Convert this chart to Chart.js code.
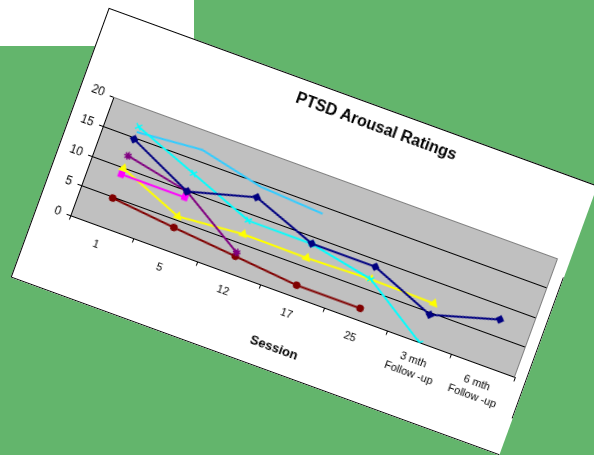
<!DOCTYPE html>
<html>
<head>
<meta charset="utf-8">
<script src="https://cdn.jsdelivr.net/npm/chart.js@4.4.1/dist/chart.umd.min.js"></script>
<style>
  html, body { margin: 0; padding: 0; }
  body { width: 594px; height: 455px; background: #63B56C; position: relative; overflow: hidden; }
  #whiteRect { position: absolute; left: 0; top: 0; width: 194px; height: 46px; background: #fff; }
  #paper { position: absolute; left: 43.5px; top: 87.5px; width: 520px; height: 287px; background: #fff;
           transform: rotate(20deg); transform-origin: 50% 50%; overflow: hidden; }
  #frame { position: absolute; left: 0; top: 0; width: 520px; height: 287px; box-sizing: border-box;
           border-top: 1px solid #000; border-left: 1px solid #000; border-bottom: 1px solid #000; pointer-events: none; }
  #rightLine { position: absolute; left: 519px; top: 98px; width: 1px; height: 150px; background: #000; }
  #c { position: absolute; left: 0; top: 0; }
</style>
</head>
<body>
<div id="whiteRect"></div>
<div id="paper">
  <canvas id="c" width="584" height="287"></canvas>
  <div id="frame"></div>
  <div id="rightLine"></div>
</div>
<script>
const sessions = ['1', '5', '12', '17', '25', ['3 mth', 'Follow -up'], ['6 mth', 'Follow -up']];
const yTicks = [0, 5, 10, 15, 20];

const navySeries    = [14.8, 9.9, 12.8, 8.9, 8.9, 4.7, 7.8];
const skySeries     = [16.0, 16.9, 14.6, 13.9, null, null, null];
const cyanSeries    = [16.9, 12.9, 8.9, 8.85, 6.8, 0, null];
const purpleSeries  = [12.0, 9.9, 3.5, null, null, null, null];
const magentaSeries = [8.9, 8.9, null, null, null, null, null];
const yellowSeries  = [9.9, 5.7, 6.6, 6.5, 6.8, 6.6, null];
const redSeries     = [4.9, 3.85, 2.9, 1.9, 1.9, null, null];

const FONT = '"Liberation Sans", Arial, sans-serif';

const plotBg = {
  id: 'plotBg',
  beforeDraw(chart) {
    const { ctx, chartArea: { left, top, right, bottom } } = chart;
    ctx.save();
    ctx.fillStyle = '#C0C0C0';
    ctx.fillRect(left, top, right - left, bottom - top);
    ctx.restore();
  },
  beforeDatasetsDraw(chart) {
    const { ctx, chartArea: { left, top, right, bottom } } = chart;
    ctx.save();
    ctx.strokeStyle = '#808080';
    ctx.lineWidth = 1;
    ctx.beginPath();
    ctx.moveTo(left, top + 0.5);
    ctx.lineTo(right - 0.5, top + 0.5);
    ctx.lineTo(right - 0.5, bottom);
    ctx.stroke();
    ctx.restore();
  }
};

function ds(data, color, style, radius) {
  return {
    data, borderColor: color, backgroundColor: color, yAxisID: 'y',
    pointStyle: style, pointRadius: radius, pointBorderColor: color, pointBackgroundColor: color,
    pointBorderWidth: 1.5, borderWidth: 2, tension: 0, spanGaps: false
  };
}

new Chart(document.getElementById('c'), {
  type: 'line',
  data: {
    labels: sessions,
    datasets: [
      ds(navySeries, '#000080', 'rectRot', 3.5),
      ds(cyanSeries, '#00FFFF', 'crossRot', 4),
      ds(skySeries, '#33CCFF', false, 0),
      ds(purpleSeries, '#800080', 'star', 4),
      ds(magentaSeries, '#FF00FF', 'rect', 3.5),
      ds(yellowSeries, '#FFFF00', 'triangle', 4),
      ds(redSeries, '#800000', 'circle', 3)
    ]
  },
  options: {
    responsive: false,
    animation: false,
    layout: { padding: 0 },
    plugins: {
      legend: { display: false },
      tooltip: { enabled: false },
      title: {
        display: true, text: 'PTSD Arousal Ratings', color: '#000',
        font: { family: FONT, size: 16, weight: 'bold' },
        padding: { top: 10.9, bottom: 51.9 }
      }
    },
    scales: {
      x: {
        offset: true,
        grid: { offset: true, drawOnChartArea: false, drawTicks: true, tickLength: 4, tickColor: '#000' },
        border: { color: '#000', width: 1 },
        ticks: { color: '#000', font: { family: FONT, size: 11, lineHeight: 1.3 }, padding: 7, maxRotation: 0, autoSkip: false },
        title: { display: true, text: 'Session', color: '#000', font: { family: FONT, size: 13, weight: 'bold' }, padding: { top: 0, bottom: 16.2 } },
        afterFit(scale) { scale.height = 78.5; }
      },
      y: {
        min: 0, max: 20,
        afterBuildTicks(scale) { scale.ticks = yTicks.map(v => ({ value: v })); },
        grid: {
          color: (c) => (c.tick && c.tick.value === 20) ? 'rgba(0,0,0,0)' : '#000',
          tickColor: '#000', tickLength: 4, drawTicks: true, lineWidth: 1
        },
        border: { color: '#000', width: 1 },
        ticks: { color: '#000', font: { family: FONT, size: 12 }, padding: 6 },
        afterFit(scale) { scale.width = 35; }
      },
      spacer: {
        type: 'linear', position: 'right', min: 0, max: 20,
        grid: { display: false, drawOnChartArea: false },
        border: { display: false },
        ticks: { display: false },
        afterFit(scale) { scale.width = 76; }
      }
    }
  },
  plugins: [plotBg]
});
</script>
</body>
</html>
